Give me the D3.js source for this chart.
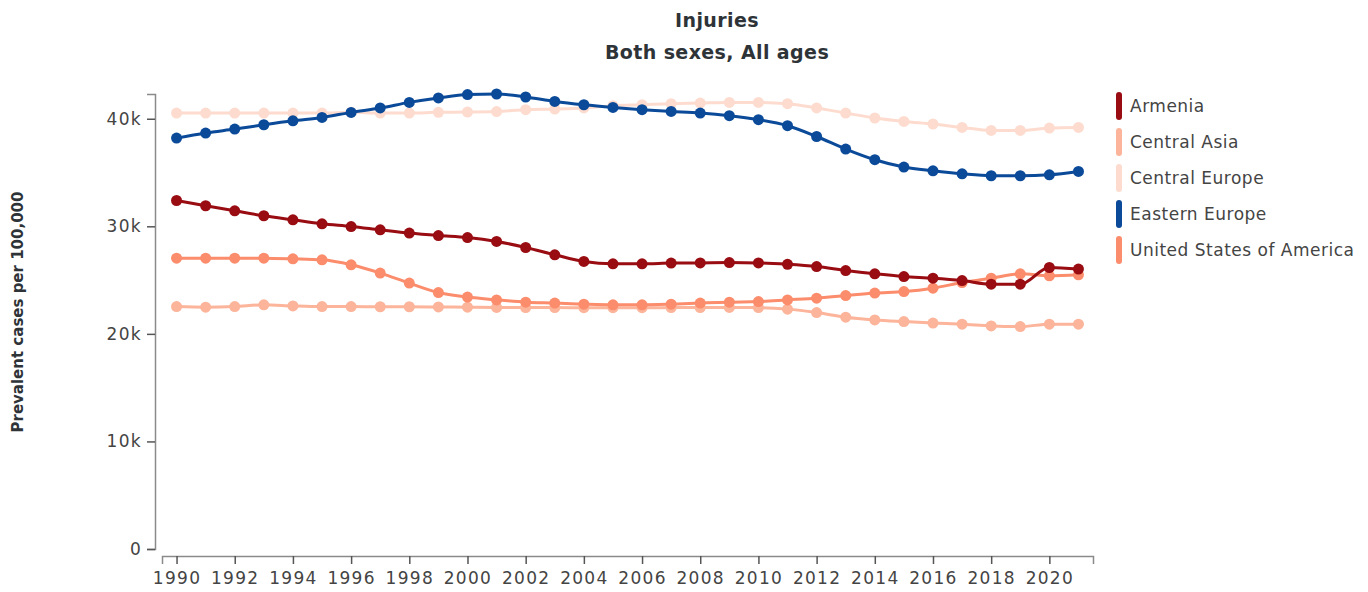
<!DOCTYPE html>
<html>
<head>
<meta charset="utf-8">
<script src="https://cdn.jsdelivr.net/npm/d3@7"></script>
<style>
  body { margin: 0; background: #fff; }
  svg { display: block; font-family: "DejaVu Sans", "Liberation Sans", Arial, sans-serif; }
</style>
</head>
<body>
<svg id="chart" width="1368" height="592"></svg>
<script>
const years = d3.range(1990, 2022);
const seriesNames = ["Armenia", "Central Asia", "Central Europe", "Eastern Europe", "United States of America"];
const seriesColors = ["#980c12", "#fcb49a", "#fddccf", "#0b4a99", "#fb8c6c"];

const armenia = [32400, 31910, 31440, 30980, 30600, 30230, 29980, 29670, 29370, 29140, 28950, 28590, 28030, 27350, 26730, 26510, 26510, 26580, 26600, 26630, 26600, 26470, 26260, 25890, 25580, 25330, 25180, 24960, 24620, 24620, 26170, 26020];
const centralAsia = [22540, 22480, 22540, 22700, 22600, 22540, 22540, 22520, 22520, 22500, 22480, 22460, 22450, 22440, 22430, 22430, 22430, 22440, 22450, 22460, 22440, 22300, 21980, 21550, 21300, 21140, 21000, 20900, 20740, 20680, 20900, 20900];
const centralEurope = [40530, 40530, 40530, 40530, 40530, 40530, 40600, 40530, 40530, 40600, 40620, 40670, 40840, 40900, 41000, 41210, 41300, 41400, 41460, 41520, 41520, 41400, 41000, 40530, 40070, 39750, 39510, 39190, 38910, 38910, 39130, 39190];
const easternEurope = [38200, 38670, 39040, 39440, 39810, 40120, 40590, 41000, 41520, 41930, 42250, 42300, 42020, 41610, 41300, 41050, 40840, 40680, 40530, 40280, 39910, 39350, 38350, 37180, 36190, 35510, 35160, 34880, 34700, 34700, 34790, 35100];
const usa = [27040, 27040, 27040, 27040, 26980, 26880, 26420, 25650, 24720, 23840, 23420, 23160, 22950, 22860, 22760, 22700, 22700, 22760, 22860, 22950, 23000, 23160, 23320, 23560, 23790, 23930, 24250, 24770, 25180, 25580, 25400, 25490];

const yTicks = [0, 10000, 20000, 30000, 40000];
const xTicks = d3.range(1990, 2021, 2);

const allSeries = [armenia, centralAsia, centralEurope, easternEurope, usa];
const data = seriesNames.map((n, i) => ({ name: n, color: seriesColors[i], values: allSeries[i].map((v, j) => ({ year: years[j], value: v })) }));

const svg = d3.select("#chart");

const x = d3.scaleLinear().domain([1989.5, 2021.5]).range([162, 1093]);
const yMax = d3.max(allSeries, s => d3.max(s));
const y = d3.scaleLinear().domain([0, yMax]).range([549, 94]);

// Titles
svg.append("text").attr("x", 717).attr("y", 27).attr("text-anchor", "middle")
  .attr("font-size", 19).attr("letter-spacing", 0.4).attr("font-weight", "bold").attr("fill", "#2e3338").text("Injuries");
svg.append("text").attr("x", 717).attr("y", 59).attr("text-anchor", "middle")
  .attr("font-size", 19).attr("letter-spacing", 0.4).attr("font-weight", "bold").attr("fill", "#2e3338").text("Both sexes, All ages");

// Y axis label
svg.append("text").attr("transform", "translate(23,312) rotate(-90)").attr("text-anchor", "middle")
  .attr("font-size", 15).attr("font-weight", "bold").attr("fill", "#2e3338").text("Prevalent cases per 100,000");

// Y axis
const yAxis = svg.append("g").attr("transform", "translate(155,0)")
  .call(d3.axisLeft(y).tickValues(yTicks).tickFormat(d3.format("~s")).tickSize(8).tickPadding(5));
// X axis
const xAxis = svg.append("g").attr("transform", "translate(0,556)")
  .call(d3.axisBottom(x).tickValues(xTicks).tickFormat(d3.format("d")).tickSize(8).tickPadding(8));

[yAxis, xAxis].forEach(g => {
  g.select(".domain").attr("stroke", "#8a8a8a").attr("stroke-width", 1.5);
  g.selectAll(".tick line").attr("stroke", "#555").attr("stroke-width", 1.5);
  g.selectAll(".tick text").attr("font-size", 17).attr("letter-spacing", 1.3).attr("fill", "#444")
    .attr("font-family", "'DejaVu Sans', Arial, sans-serif");
});

// Lines
const line = d3.line().x(d => x(d.year)).y(d => y(d.value)).curve(d3.curveMonotoneX);
const order = [2, 1, 4, 0, 3];
order.forEach(i => {
  const s = data[i];
  const g = svg.append("g");
  g.append("path").datum(s.values).attr("d", line).attr("fill", "none")
    .attr("stroke", s.color).attr("stroke-width", 3);
  g.selectAll("circle").data(s.values).join("circle")
    .attr("cx", d => x(d.year)).attr("cy", d => y(d.value)).attr("r", 5.5).attr("fill", s.color);
});

// Legend
const legend = svg.append("g");
data.forEach((s, i) => {
  const cy = 106 + i * 36;
  legend.append("rect").attr("x", 1116).attr("y", cy - 14).attr("width", 6).attr("height", 28)
    .attr("rx", 3).attr("fill", s.color);
  legend.append("text").attr("x", 1130).attr("y", cy).attr("dy", "0.35em")
    .attr("font-size", 17).attr("letter-spacing", 0.5).attr("fill", "#444").text(s.name);
});
</script>
</body>
</html>
